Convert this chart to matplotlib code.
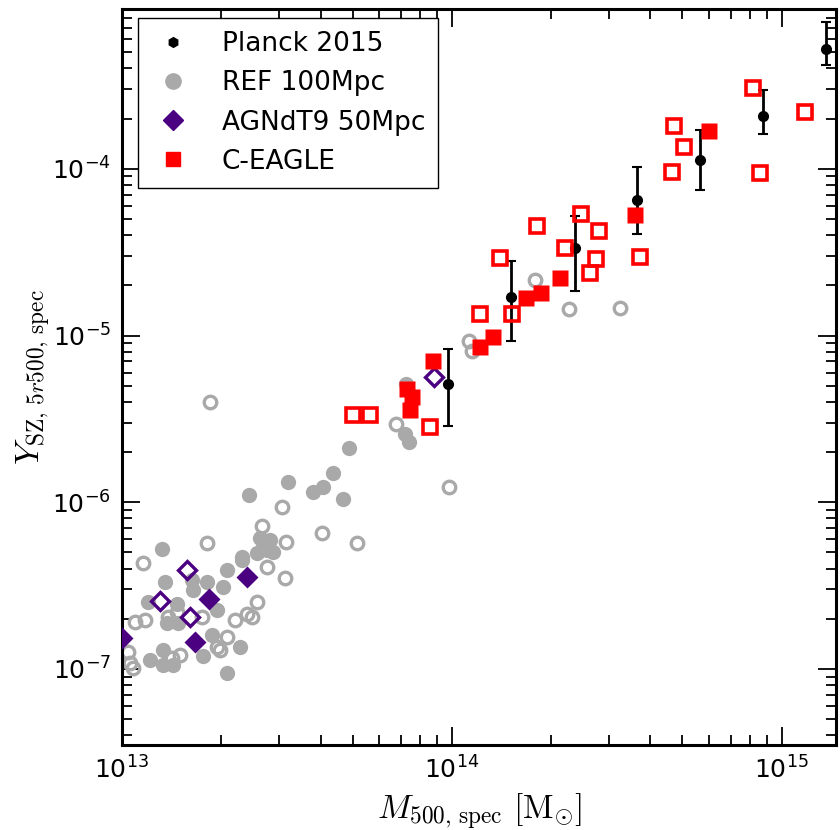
"""Y_SZ - M_500 scaling: Planck 2015 bins against EAGLE-like simulation samples."""

import matplotlib

matplotlib.use("Agg")
import matplotlib.pyplot as plt
from matplotlib.lines import Line2D

plt.rcParams["mathtext.fontset"] = "cm"

# Planck 2015 binned measurements (value with lower / upper edge of the bar)
planck_m = [9.72e13, 1.51e14, 2.36e14, 3.65e14, 5.67e14, 8.78e14, 1.366e15]
planck_y = [5.09e-6, 1.71e-5, 3.35e-5, 6.50e-5, 1.13e-4, 2.07e-4, 5.23e-4]
planck_lo = [2.86e-6, 9.25e-6, 1.86e-5, 4.06e-5, 7.48e-5, 1.61e-4, 4.20e-4]
planck_hi = [8.32e-6, 2.81e-5, 5.21e-5, 1.03e-4, 1.71e-4, 2.96e-4, 7.59e-4]

# REF 100Mpc, filled symbols
ref_m_a = [1.319e13, 1.350e13, 1.201e13, 1.366e13, 1.334e13, 1.216e13, 1.334e13,
           1.430e13, 1.764e13, 1.870e13, 2.279e13, 2.076e13, 1.626e13, 1.806e13,
           2.076e13, 2.306e13, 2.559e13, 2.680e13, 2.028e13, 1.936e13, 1.644e13,
           1.465e13, 1.481e13, 2.431e13, 3.177e13, 3.800e13, 4.074e13, 2.619e13,
           2.809e13, 2.745e13, 2.874e13, 2.306e13, 4.350e13, 4.665e13, 4.884e13,
           7.205e13, 7.424e13, 7.255e13]
ref_y_a = [5.28e-7, 3.33e-7, 2.53e-7, 1.88e-7, 1.30e-7, 1.13e-7, 1.06e-7,
           1.06e-7, 1.19e-7, 1.60e-7, 1.36e-7, 9.42e-8, 3.41e-7, 3.33e-7,
           3.92e-7, 4.50e-7, 4.93e-7, 5.66e-7, 3.11e-7, 2.26e-7, 2.97e-7,
           2.47e-7, 1.88e-7, 1.11e-6, 1.32e-6, 1.15e-6, 1.24e-6, 6.07e-7,
           5.92e-7, 5.16e-7, 5.04e-7, 4.70e-7, 1.50e-6, 1.04e-6, 2.11e-6,
           2.58e-6, 2.30e-6, 5.14e-6]

# REF 100Mpc, open symbols
ref_m_b = [1.160e13, 1.806e13, 1.095e13, 1.174e13, 1.381e13, 1.465e13, 1.743e13,
           2.200e13, 2.388e13, 2.472e13, 2.559e13, 2.745e13, 1.045e13, 1.057e13,
           1.082e13, 1.499e13, 1.415e13, 1.936e13, 1.981e13, 2.076e13, 1.848e13,
           3.054e13, 2.662e13, 3.147e13, 4.046e13, 5.164e13, 3.118e13, 6.767e13,
           9.79e13, 1.126e14, 1.148e14, 1.784e14, 2.262e14, 3.228e14]
ref_y_b = [4.30e-7, 5.66e-7, 1.92e-7, 1.96e-7, 2.06e-7, 2.20e-7, 2.06e-7,
           1.96e-7, 2.15e-7, 2.06e-7, 2.53e-7, 4.10e-7, 1.27e-7, 1.08e-7,
           1.01e-7, 1.21e-7, 1.16e-7, 1.36e-7, 1.30e-7, 1.56e-7, 3.99e-6,
           9.37e-7, 7.21e-7, 5.78e-7, 6.50e-7, 5.66e-7, 3.49e-7, 2.96e-6,
           1.23e-6, 9.33e-6, 8.13e-6, 2.14e-5, 1.445e-5, 1.466e-5]

# AGNdT9 50Mpc
agn_m_a = [2.40e13, 1.84e13, 1.664e13, 1.0e13]
agn_y_a = [3.57e-7, 2.62e-7, 1.445e-7, 1.53e-7]
agn_m_b = [1.57e13, 1.304e13, 1.607e13, 8.84e13]
agn_y_b = [3.92e-7, 2.56e-7, 2.06e-7, 5.68e-6]

# C-EAGLE clusters
ce_m_a = [6.02e14, 3.60e14, 2.12e14, 1.86e14, 1.68e14, 1.33e14, 1.215e14,
          8.78e13, 7.29e13, 7.55e13, 7.46e13]
ce_y_a = [1.69e-4, 5.28e-5, 2.20e-5, 1.81e-5, 1.67e-5, 9.77e-6, 8.51e-6,
          7.08e-6, 4.80e-6, 4.27e-6, 3.56e-6]
ce_m_b = [8.18e14, 1.174e15, 4.71e14, 5.05e14, 4.65e14, 8.58e14, 2.46e14,
          1.81e14, 2.80e14, 2.21e14, 3.71e14, 1.398e14, 2.73e14, 2.63e14,
          1.215e14, 1.523e14, 5.02e13, 5.64e13, 8.58e13]
ce_y_b = [3.04e-4, 2.20e-4, 1.81e-4, 1.36e-4, 9.63e-5, 9.50e-5, 5.36e-5,
          4.56e-5, 4.25e-5, 3.35e-5, 2.98e-5, 2.90e-5, 2.88e-5, 2.36e-5,
          1.35e-5, 1.35e-5, 3.32e-6, 3.36e-6, 2.82e-6]

GREY = "#a9a9a9"
PURPLE = "#4b0082"
RED = "#ff0000"

fig = plt.figure(figsize=(8.4, 8.3), dpi=100)
ax = fig.add_axes([0.1452, 0.1024, 0.85, 0.8868])

ax.plot(ref_m_a, ref_y_a, "o", color=GREY, ms=11, mec="none", zorder=2)
ax.plot(ref_m_b, ref_y_b, "o", mfc="none", mec=GREY, ms=9, mew=2.4, zorder=2)

ax.plot(agn_m_a, agn_y_a, "D", color=PURPLE, ms=11, mec="none", zorder=3)
ax.plot(agn_m_b, agn_y_b, "D", mfc="none", mec=PURPLE, ms=9.5, mew=2.4, zorder=3)

ax.errorbar(planck_m, planck_y,
            yerr=[[y - lo for y, lo in zip(planck_y, planck_lo)],
                  [hi - y for y, hi in zip(planck_y, planck_hi)]],
            fmt="o", color="k", ms=7, elinewidth=2, capsize=3.5, capthick=1.5,
            zorder=4)

ax.plot(ce_m_a, ce_y_a, "s", color=RED, ms=12, mec="none", zorder=5)
ax.plot(ce_m_b, ce_y_b, "s", mfc="none", mec=RED, ms=10, mew=2.6, zorder=5)

ax.set_xscale("log")
ax.set_yscale("log")
ax.set_xlim(1e13, 1.46e15)
ax.set_ylim(3.5e-8, 9.1e-4)

ax.set_xlabel(r"$M_{500,\,\mathrm{spec}}\ [\mathrm{M}_{\odot}]$", fontsize=24,
              labelpad=6)
ax.set_ylabel(r"$Y_{\mathrm{SZ},\,5r500,\,\mathrm{spec}}$", fontsize=24,
              labelpad=0)

ax.tick_params(which="both", direction="in", top=True, right=True,
               labelsize=18, width=1.3, pad=8)
ax.tick_params(which="major", length=13)
ax.tick_params(which="minor", length=7)
for sp in ax.spines.values():
    sp.set_linewidth(2.2)

handles = [
    Line2D([], [], ls="none", marker="h", color="k", ms=7),
    Line2D([], [], ls="none", marker="o", color=GREY, ms=11),
    Line2D([], [], ls="none", marker="D", color=PURPLE, ms=10),
    Line2D([], [], ls="none", marker="s", color=RED, ms=10),
]
labels = ["Planck 2015", "REF 100Mpc", "AGNdT9 50Mpc", "C-EAGLE"]
leg = ax.legend(handles, labels, loc="upper left", fontsize=19, numpoints=1,
                fancybox=False, edgecolor="k", framealpha=1,
                borderpad=0.5, labelspacing=0.5, handlelength=1.67,
                handletextpad=1.0, borderaxespad=0,
                bbox_to_anchor=(0.0224, 0.9878))
leg.get_frame().set_linewidth(1.0)

fig.savefig("out.png", dpi=100, facecolor="white")
